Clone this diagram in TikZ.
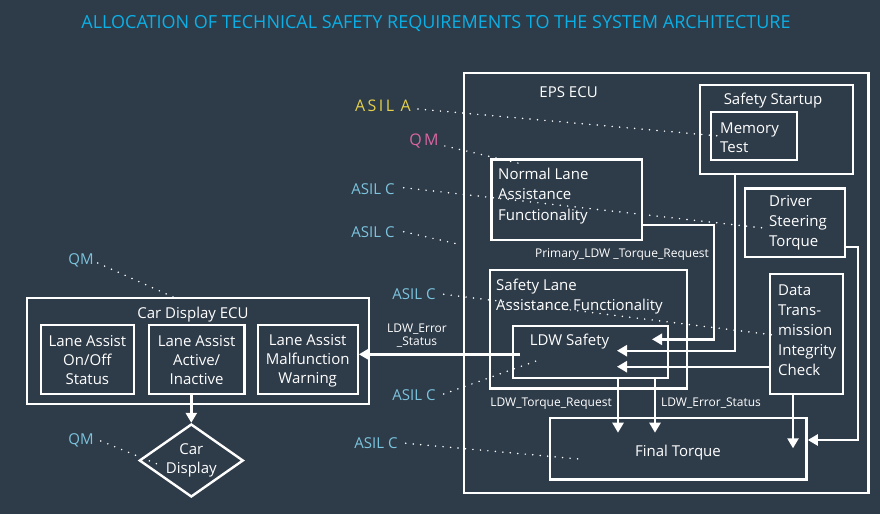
\documentclass[tikz,border=0pt]{standalone}
\usepackage{fontspec}
\setmainfont{Open Sans}
\usetikzlibrary{arrows.meta,shapes.geometric}
\definecolor{bg}{HTML}{2E3B49}
\definecolor{titlec}{HTML}{0AB0E6}
\definecolor{asilc}{HTML}{7CC4DE}
\definecolor{asila}{HTML}{E4D04A}
\definecolor{qmpink}{HTML}{D866A2}
\begin{document}
\begin{tikzpicture}[x=1pt,y=-1pt,
  box/.style={draw=white, line width=2.4pt, inner sep=0pt},
  txt/.style={text=white, font=\fontsize{15}{20.3}\selectfont, inner sep=0pt, yshift=-1.5pt},
  small/.style={text=white, font=\fontsize{12}{12.6}\selectfont, inner sep=0pt, yshift=-1pt},
  wire/.style={draw=white, line width=2.4pt},
  arr/.style={draw=white, line width=2.4pt, -{Triangle[length=10pt,width=11pt]}},
  dots/.style={draw=white, line width=1.7pt, line cap=round, dash pattern=on 0pt off 7.5pt},
  lblc/.style={text=asilc, font=\fontsize{15}{18}\selectfont, inner sep=0pt, yshift=-1pt},
]
\fill[bg] (0,0) rectangle (880,514);
\useasboundingbox (0,0) rectangle (880,514);

% title
\node[text=titlec, font=\fontsize{18}{20}\selectfont, inner sep=0pt] (title) at (436,24) {ALLOCATION OF TECHNICAL SAFETY REQUIREMENTS TO THE SYSTEM ARCHITECTURE};

% EPS ECU
\node[box, minimum width=404.6pt, minimum height=420pt] (eps) at (666.3,282.7) {};
\node[txt] (epsl) at (568.6,90.7) {EPS ECU};
\node[box, minimum width=153pt, minimum height=89pt] (ss) at (776.5,129.5) {};
\node[txt] (ssl) at (773,99.3) {Safety Startup};
\node[box, minimum width=86pt, minimum height=48.3pt] (mem) at (754,135.85) {};
\node[txt, anchor=west, align=left, font=\fontsize{15}{19}\selectfont] (meml) at (720,136.2) {Memory\\Test};
\node[box, minimum width=150.5pt, minimum height=80.7pt] (nla) at (566.75,199.65) {};
\node[txt, anchor=west, align=left] (nlal) at (498,194.6) {Normal Lane\\Assistance\\Functionality};
\node[box, minimum width=100pt, minimum height=68.4pt] (dst) at (795,222.5) {};
\node[txt, anchor=west, align=left, font=\fontsize{15}{20}\selectfont] (dstl) at (769,221.7) {Driver\\Steering\\Torque};
\node[box, minimum width=197pt, minimum height=118.3pt] (sla) at (588.5,329.15) {};
\node[txt, anchor=west, align=left, font=\fontsize{15}{20}\selectfont] (slal) at (496,295) {Safety Lane\\Assistance Functionality};
\node[box, minimum width=155pt, minimum height=51.7pt] (ldw) at (590.5,351.85) {};
\node[txt] (ldwl) at (569.5,340) {LDW Safety};
\node[box, minimum width=73pt, minimum height=120pt] (dti) at (806.5,334) {};
\node[txt, anchor=west, align=left, font=\fontsize{15}{20}\selectfont] (dtil) at (778,328.3) {Data\\Trans-\\mission\\Integrity\\Check};
\node[box, minimum width=256.6pt, minimum height=61.6pt] (ft) at (678.3,448.5) {};
\node[txt] (ftl) at (678,451) {Final Torque};

% Car display ECU
\node[box, minimum width=342pt, minimum height=106.3pt] (cde) at (198,350.85) {};
\node[txt] (cdel) at (193,313) {Car Display ECU};
\node[box, minimum width=93.3pt, minimum height=69pt] (b1) at (87.35,359.5) {};
\node[txt, align=center, font=\fontsize{15}{19}\selectfont] (b1l) at (87.35,359) {Lane Assist\\On/Off\\Status};
\node[box, minimum width=95.3pt, minimum height=69pt] (b2) at (196.65,359.5) {};
\node[txt, align=center, font=\fontsize{15}{19}\selectfont] (b2l) at (196.65,359) {Lane Assist\\Active/\\Inactive};
\node[box, minimum width=100pt, minimum height=69pt] (b3) at (307.7,359.5) {};
\node[txt, align=center, font=\fontsize{15}{19}\selectfont] (b3l) at (307.7,359) {Lane Assist\\Malfunction\\Warning};
\node[draw=white, line width=2.4pt, diamond, inner sep=0pt, minimum width=104pt, minimum height=73pt] (cd) at (191.3,460.5) {};
\node[txt, align=center, font=\fontsize{15}{19}\selectfont] (cdl) at (191.3,458.5) {Car\\Display};

% signal labels
\node[small] (prl) at (622,253.3) {Primary\_LDW \_Torque\_Request};
\node[small] (ltr) at (551,402.3) {LDW\_Torque\_Request};
\node[small] (les) at (711,402.3) {LDW\_Error\_Status};
\node[small, align=center] (lesl) at (417,334.5) {LDW\_Error\\\_Status};

% connector end coordinates
\coordinate (t1) at (652,339.3);
\coordinate (t2) at (617,350.7);
\coordinate (t3) at (617,366.7);
\coordinate (t4) at (618,432.7);
\coordinate (t5) at (655,432.7);
\coordinate (t6) at (793,448.3);
\coordinate (s7) at (520,354.3);

% connectors
\draw[arr] (nla.east |- 0,225) -- (714,225) -- (714,339.3) -- (t1);
\draw[arr] (ss.south -| 735,0) -- (735,350.7) -- (t2);
\draw[arr] (dti.west |- 0,366.7) -- (t3);
\draw[arr] (ldw.south -| t4) -- (t4);
\draw[arr] (ldw.south -| t5) -- (t5);
\draw[arr] (dti.south -| t6) -- (t6);
\draw[arr] (dst.east |- 0,246.7) -- (858,246.7) -- (858,440) -- (ft.east |- 0,440);
\draw[arr] (s7) -- (b3.east |- s7);
\draw[arr] (cd.north |- b2.south) -- (cd.north);

% ASIL labels
\node[text=asila, inner sep=0pt, yshift=-1pt, font=\fontsize{16}{18}\selectfont\addfontfeature{LetterSpace=15}] (aa) at (383,105) {ASIL A};
\node[text=qmpink, inner sep=0pt, yshift=-1pt, font=\fontsize{16}{18}\selectfont\addfontfeature{LetterSpace=15}] (qm1) at (424,140) {QM};
\node[lblc] (c1) at (373,187.7) {ASIL C};
\node[lblc] (c2) at (373,230.7) {ASIL C};
\node[lblc] (c3) at (414,293.3) {ASIL C};
\node[lblc] (c4) at (414,394) {ASIL C};
\node[lblc] (c5) at (376,442.3) {ASIL C};
\node[lblc] (qm2) at (81,259) {QM};
\node[lblc] (qm3) at (81,439) {QM};

\coordinate (d1) at (719,136);
\coordinate (d2) at (522,164);
\coordinate (d3) at (763,228);
\coordinate (d4) at (462,245);
\coordinate (d5) at (774,335);
\coordinate (d6) at (536,361);
\coordinate (d7) at (579,459);
\coordinate (d8) at (173,297);
\coordinate (d9) at (162,466);

\draw[dots] ([xshift=7pt,yshift=-3pt]aa.east) -- (d1);
\draw[dots] ([xshift=6pt,yshift=-5pt]qm1.east) -- (d2);
\draw[dots] ([xshift=9pt,yshift=1pt]c1.east) -- (d3);
\draw[dots] ([xshift=9pt]c2.east) -- (d4);
\draw[dots] ([xshift=8pt]c3.east) -- (d5);
\draw[dots] ([xshift=8pt,yshift=1pt]c4.east) -- (d6);
\draw[dots] ([xshift=8pt]c5.east) -- (d7);
\draw[dots] ([xshift=4pt,yshift=-3pt]qm2.east) -- (d8);
\draw[dots] ([xshift=7pt,yshift=-1pt]qm3.east) -- (d9);
\end{tikzpicture}
\end{document}
